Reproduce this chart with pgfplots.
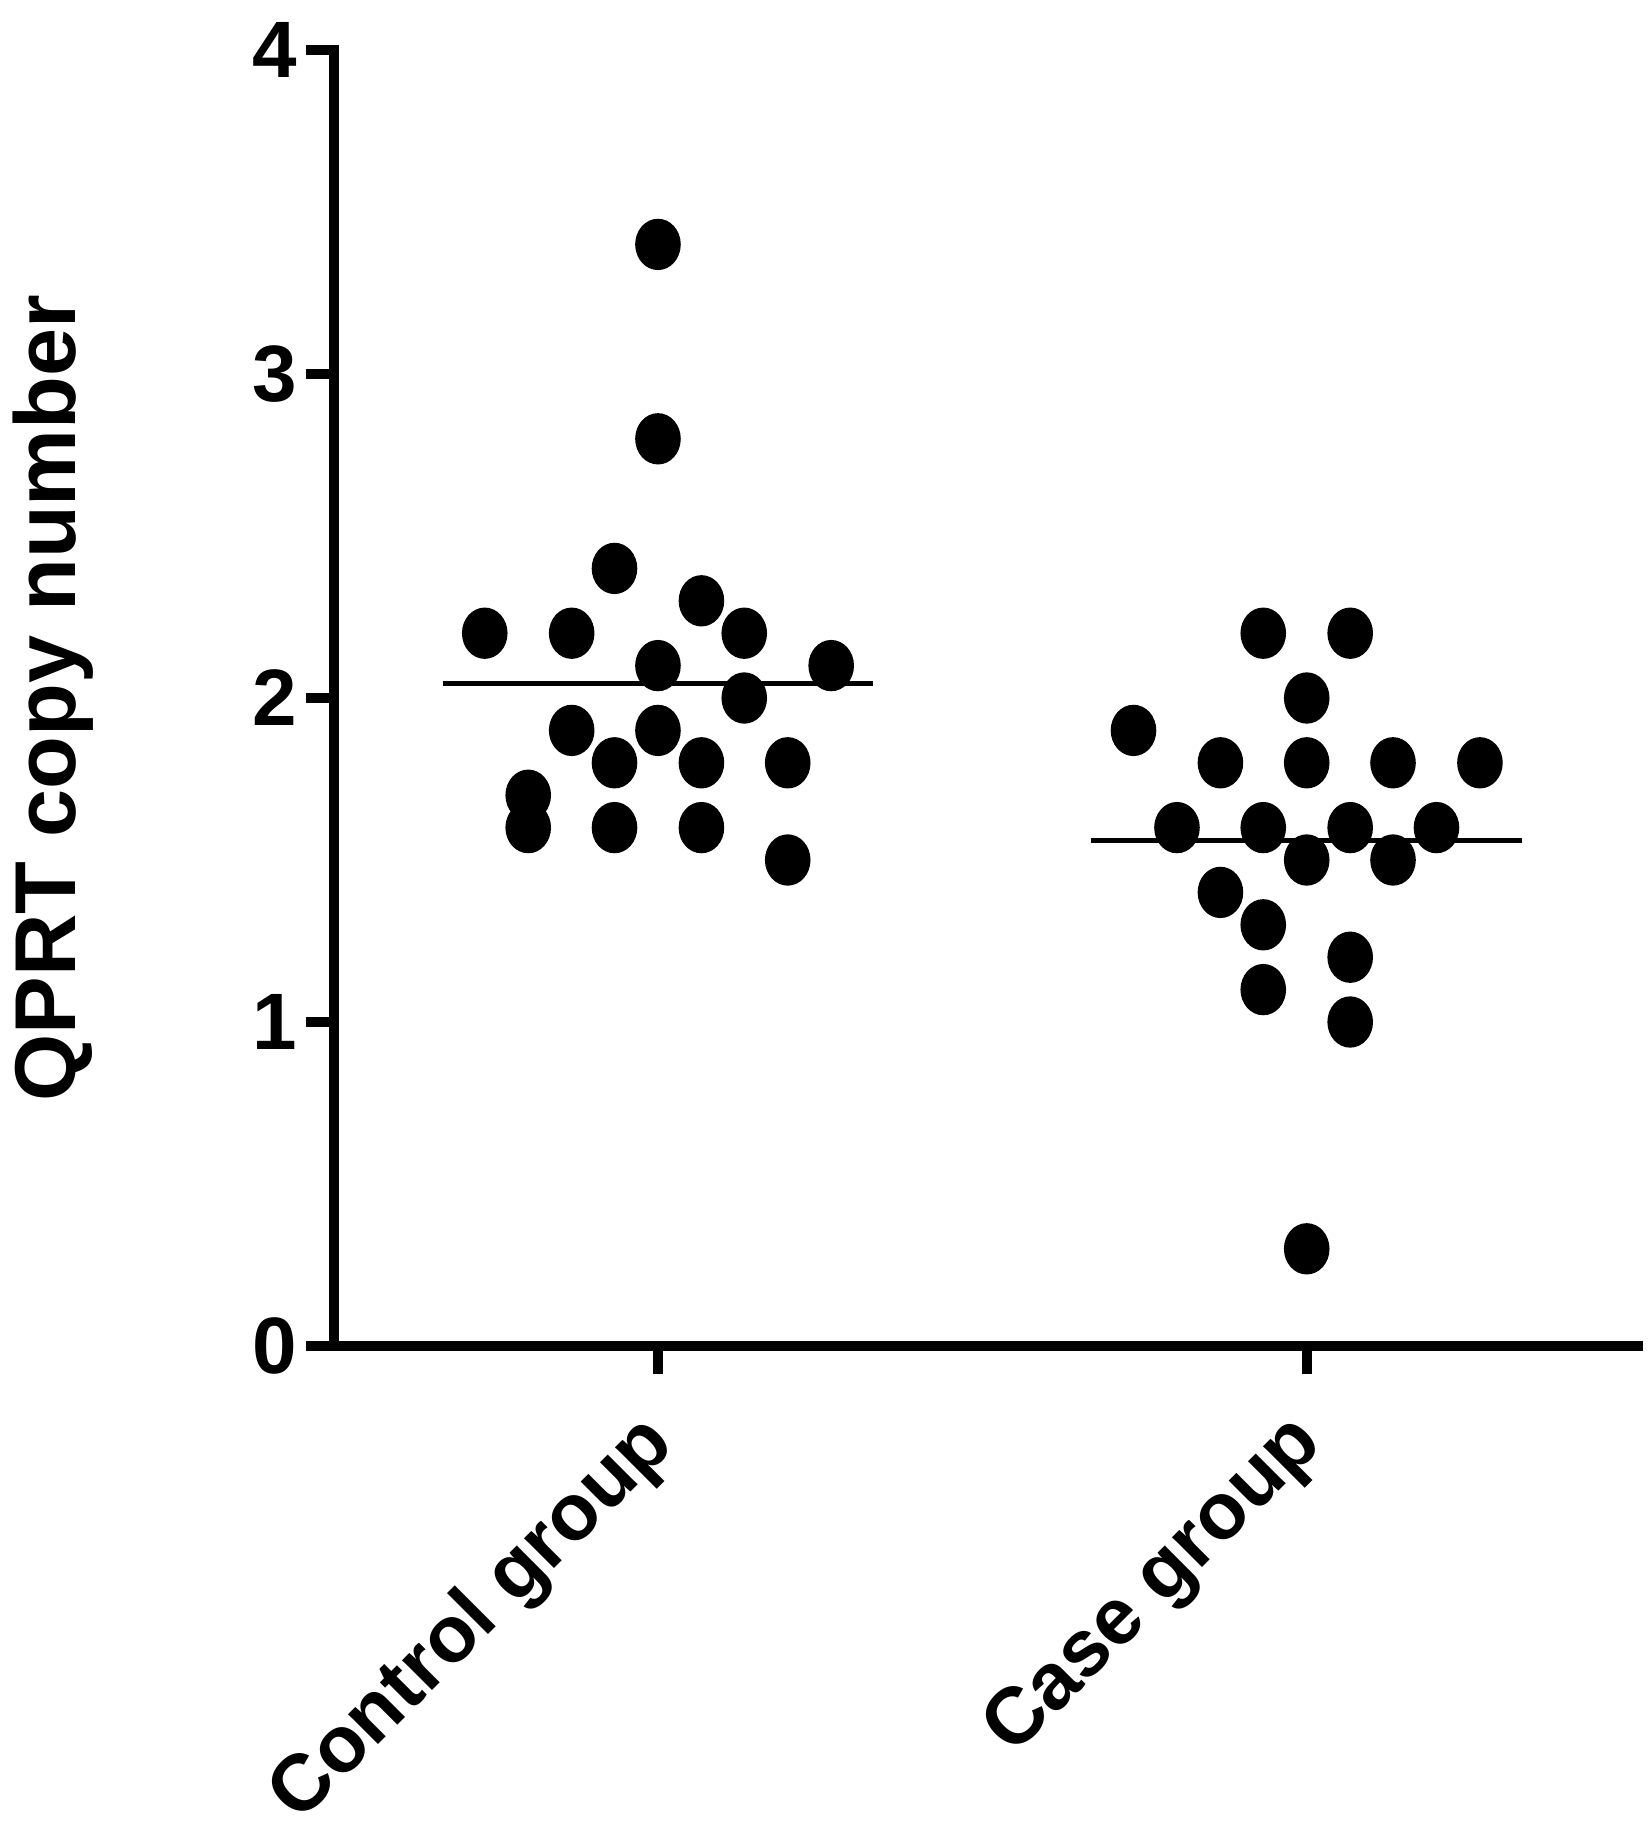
\documentclass[border=0pt]{standalone}
\usepackage{pgfplots}
\pgfplotsset{compat=1.18}
\usepackage{fontspec}
\setmainfont{Liberation Sans}
\usetikzlibrary{calc}

\begin{document}
\begin{tikzpicture}
\begin{axis}[
  scale only axis,
  width=326pt, height=324pt,
  xmin=0.5, xmax=2.51, ymin=0, ymax=4,
  axis lines=left,
  axis line style={-, line width=2.5pt, line cap=rect},
  xtick={1,2}, xticklabels={Control group, Case group},
  ytick={0,1,2,3,4},
  tick align=outside,
  major tick length=7pt,
  tick style={line width=2.5pt, black},
  /pgf/number format/assume math mode=true,
  yticklabel style={font=\fontsize{20}{22}\selectfont\bfseries, inner sep=2pt},
  xticklabel style={font=\fontsize{20}{22}\selectfont\bfseries,
    xshift=3.5pt, yshift=-12pt, rotate=45, anchor=east},
  ylabel={QPRT copy number},
  ylabel style={at={(axis description cs:-0.215,0.5)}, anchor=center,
    font=\fontsize{21.6}{24}\selectfont\bfseries},
  clip=false,
]
% control group
\addplot[only marks, mark=*, mark size=5.5pt,
  mark options={fill=black, draw=black, yscale=1.13}] coordinates {
  (1,3.4) (1,2.8) (0.933,2.4) (1.067,2.3)
  (0.733,2.2) (0.867,2.2) (1.133,2.2)
  (1,2.1) (1.267,2.1) (1.133,2.0)
  (0.867,1.9) (1,1.9)
  (0.933,1.8) (1.067,1.8) (1.2,1.8)
  (0.8,1.7)
  (0.8,1.6) (0.933,1.6) (1.067,1.6)
  (1.2,1.5)
};
% case group
\addplot[only marks, mark=*, mark size=5.5pt,
  mark options={fill=black, draw=black, yscale=1.13}] coordinates {
  (1.933,2.2) (2.067,2.2) (2,2.0) (1.733,1.9)
  (1.867,1.8) (2,1.8) (2.133,1.8) (2.267,1.8)
  (1.8,1.6) (1.933,1.6) (2.067,1.6) (2.2,1.6)
  (2,1.5) (2.133,1.5) (1.867,1.4) (1.933,1.3)
  (2.067,1.2) (1.933,1.1) (2.067,1.0) (2,0.3)
};
% means
\addplot[black, line width=1.3pt] coordinates {(0.668,2.045) (1.332,2.045)};
\addplot[black, line width=1.3pt] coordinates {(1.668,1.56) (2.332,1.56)};
\coordinate (O) at (axis cs:0.5,0);
\end{axis}
\pgfresetboundingbox
\path[use as bounding box] ($(O)+(-83.4pt,-122pt)$) rectangle ($(O)+(329.1pt,336.5pt)$);
\end{tikzpicture}
\end{document}
